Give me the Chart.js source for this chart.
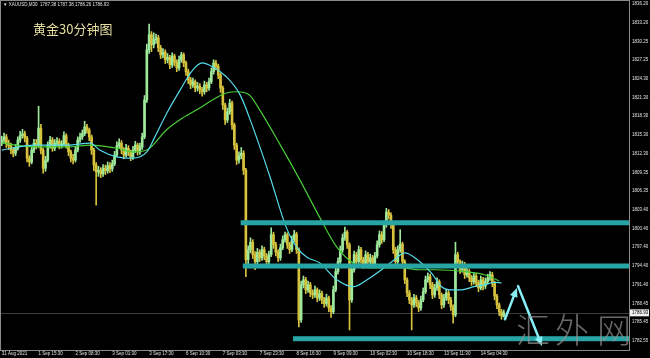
<!DOCTYPE html>
<html>
<head>
<meta charset="utf-8">
<script src="https://cdn.jsdelivr.net/npm/chart.js@4.4.0/dist/chart.umd.min.js"></script>
<style>
  html, body { margin: 0; padding: 0; background: #000; }
  #wrap { width: 650px; height: 358px; }
</style>
</head>
<body>
<div id="wrap"><canvas id="goldChart" width="650" height="358"></canvas></div>
<script>
// XAUUSD M30 - one candle per hour slot, x unit = one 30-min bar

const firstOpen = 1814.0;
const closes = [
  1814.5, 1815.0, 1813.9, 1813.6, 1812.9, 1812.4, 1813.2, 1814.5, 1815.2, 1815.5,
  1814.8, 1811.6, 1811.0, 1812.9, 1814.0, 1813.7, 1816.4, 1812.9, 1810.0, 1811.3,
  1813.7, 1814.5, 1813.2, 1814.0, 1814.3, 1813.6, 1813.9, 1815.2, 1813.7, 1812.6,
  1811.6, 1811.3, 1812.9, 1814.5, 1815.0, 1815.5, 1816.6, 1816.1, 1815.0, 1812.9,
  1810.5, 1809.4, 1809.7, 1809.1, 1810.0, 1809.6, 1810.4, 1809.9, 1810.7, 1812.1,
  1813.6, 1814.0, 1812.9, 1812.1, 1813.2, 1812.6, 1811.8, 1812.9, 1813.7, 1812.6,
  1813.4, 1815.0, 1820.9, 1828.9, 1831.3, 1829.7, 1830.5, 1830.8, 1829.2, 1828.1,
  1828.5, 1827.3, 1827.7, 1826.5, 1827.9, 1826.9, 1826.0, 1827.3, 1828.1, 1826.8,
  1825.4, 1824.1, 1823.3, 1823.8, 1822.8, 1823.1, 1822.5, 1822.2, 1823.3, 1822.8,
  1823.8, 1825.4, 1826.8, 1826.3, 1824.9, 1822.8, 1820.1, 1817.7, 1819.0, 1820.4,
  1816.9, 1813.7, 1811.3, 1812.0, 1812.4, 1809.7, 1795.4, 1797.0, 1798.2, 1796.2,
  1795.1, 1796.6, 1795.7, 1797.0, 1796.0, 1795.1, 1796.2, 1799.4, 1797.8, 1796.6,
  1795.7, 1797.3, 1798.6, 1799.4, 1797.8, 1797.0, 1798.6, 1799.5, 1797.0, 1785.8,
  1791.4, 1792.2, 1790.6, 1791.4, 1790.1, 1789.8, 1790.6, 1789.3, 1790.0, 1789.0,
  1788.4, 1789.3, 1787.7, 1787.1, 1790.6, 1793.5, 1795.1, 1797.0, 1798.9, 1799.8,
  1797.8, 1789.0, 1793.8, 1796.2, 1795.1, 1797.0, 1795.4, 1794.6, 1796.2, 1795.1,
  1795.7, 1794.7, 1796.0, 1797.8, 1799.4, 1798.6, 1801.0, 1803.0, 1802.5, 1801.0,
  1797.0, 1795.1, 1797.0, 1797.9, 1795.1, 1792.2, 1790.1, 1789.0, 1788.2, 1789.3,
  1788.5, 1787.7, 1789.0, 1790.3, 1792.2, 1792.7, 1791.4, 1789.8, 1790.9, 1791.9,
  1789.8, 1788.2, 1789.3, 1790.1, 1789.0, 1787.9, 1786.6, 1796.2, 1795.1, 1793.8,
  1794.6, 1793.0, 1793.5, 1792.5, 1791.9, 1792.8, 1791.7, 1790.9, 1792.2, 1791.2,
  1791.9, 1792.5, 1793.0, 1791.7, 1789.6, 1788.2, 1787.1, 1786.4, 1786.93
];
const highs = [
  1815.1, 1815.6, 1815.4, 1814.5, 1814.0, 1813.3, 1813.8, 1815.0, 1815.9, 1816.2,
  1815.9, 1815.1, 1812.0, 1813.4, 1814.6, 1814.6, 1819.9, 1817.0, 1813.2, 1811.9,
  1814.2, 1815.1, 1814.9, 1814.6, 1814.9, 1814.7, 1814.4, 1815.8, 1815.5, 1814.0,
  1812.9, 1812.2, 1813.4, 1815.0, 1815.6, 1816.1, 1817.5, 1817.0, 1816.4, 1815.3,
  1813.2, 1810.9, 1810.3, 1810.1, 1810.6, 1810.5, 1811.0, 1810.9, 1811.3, 1812.7,
  1814.2, 1814.7, 1814.4, 1813.3, 1813.8, 1813.6, 1812.9, 1813.5, 1814.3, 1814.0,
  1814.0, 1815.6, 1821.6, 1829.8, 1833.0, 1831.8, 1831.6, 1831.4, 1831.2, 1829.6,
  1829.1, 1828.9, 1828.3, 1828.0, 1828.4, 1828.2, 1827.3, 1827.9, 1828.5, 1828.4,
  1827.1, 1825.8, 1824.5, 1824.4, 1824.1, 1823.7, 1823.5, 1822.9, 1823.9, 1823.7,
  1824.4, 1826.0, 1827.3, 1827.2, 1826.6, 1825.2, 1823.1, 1820.4, 1819.6, 1821.0,
  1820.7, 1817.2, 1814.0, 1812.6, 1813.3, 1812.8, 1810.0, 1797.6, 1798.9, 1798.6,
  1796.7, 1797.2, 1797.0, 1797.6, 1797.4, 1796.4, 1796.8, 1800.5, 1799.8, 1798.2,
  1797.0, 1797.9, 1799.2, 1799.8, 1799.7, 1798.2, 1799.2, 1800.1, 1799.8, 1797.3,
  1792.0, 1792.8, 1792.6, 1792.0, 1791.8, 1790.6, 1791.2, 1790.9, 1790.6, 1790.4,
  1789.4, 1789.9, 1789.6, 1788.1, 1791.2, 1794.1, 1795.7, 1797.6, 1799.5, 1800.6,
  1800.1, 1798.1, 1794.4, 1796.8, 1796.6, 1797.6, 1797.4, 1795.8, 1796.8, 1796.6,
  1796.3, 1796.1, 1796.6, 1798.4, 1800.0, 1799.9, 1801.6, 1803.6, 1803.4, 1802.9,
  1801.3, 1797.4, 1797.6, 1800.2, 1798.2, 1795.4, 1792.5, 1790.5, 1789.4, 1789.9,
  1789.7, 1788.9, 1789.6, 1790.9, 1792.8, 1793.3, 1793.1, 1791.8, 1791.5, 1792.5,
  1792.2, 1790.1, 1789.9, 1790.7, 1790.5, 1789.4, 1788.2, 1798.2, 1796.6, 1795.4,
  1795.2, 1795.0, 1794.1, 1793.9, 1792.9, 1793.4, 1793.2, 1792.1, 1792.8, 1792.6,
  1792.5, 1793.1, 1793.5, 1793.4, 1792.0, 1789.9, 1788.5, 1787.5, 1787.38
];
const lows = [
  1813.6, 1814.1, 1813.3, 1813.0, 1812.3, 1811.8, 1812.0, 1812.9, 1814.1, 1814.8,
  1814.2, 1811.0, 1810.3, 1810.7, 1812.5, 1813.1, 1813.3, 1812.3, 1809.2, 1809.5,
  1811.0, 1813.2, 1812.7, 1812.8, 1813.5, 1813.1, 1813.2, 1813.6, 1813.2, 1812.0,
  1811.0, 1810.7, 1811.0, 1812.6, 1814.1, 1814.6, 1815.2, 1815.6, 1814.4, 1812.2,
  1809.6, 1804.1, 1808.7, 1808.5, 1808.7, 1809.0, 1809.2, 1809.3, 1809.5, 1810.4,
  1811.8, 1813.2, 1812.3, 1811.5, 1811.8, 1812.0, 1811.2, 1811.4, 1812.5, 1812.1,
  1812.2, 1813.0, 1814.7, 1820.5, 1828.3, 1828.6, 1829.2, 1829.9, 1828.6, 1827.5,
  1827.6, 1826.7, 1826.8, 1825.9, 1826.1, 1826.3, 1825.4, 1825.6, 1826.9, 1826.2,
  1824.8, 1823.5, 1822.7, 1822.9, 1822.2, 1822.3, 1821.9, 1821.5, 1821.8, 1822.2,
  1822.4, 1823.5, 1825.0, 1825.7, 1824.3, 1822.1, 1819.4, 1817.0, 1817.3, 1818.6,
  1816.2, 1813.0, 1810.6, 1810.8, 1811.5, 1809.0, 1792.7, 1794.6, 1796.5, 1795.6,
  1793.8, 1794.7, 1795.1, 1795.3, 1795.4, 1794.5, 1794.7, 1795.9, 1797.2, 1796.0,
  1795.1, 1795.3, 1797.0, 1798.2, 1797.2, 1796.4, 1796.7, 1798.2, 1796.4, 1784.7,
  1785.4, 1790.9, 1790.0, 1790.2, 1789.5, 1789.2, 1789.4, 1788.7, 1788.9, 1788.4,
  1787.8, 1788.0, 1787.1, 1786.2, 1786.8, 1790.3, 1793.1, 1794.8, 1796.6, 1798.5,
  1797.2, 1784.2, 1788.6, 1793.4, 1794.5, 1794.8, 1794.8, 1794.0, 1794.3, 1794.5,
  1794.7, 1794.1, 1794.4, 1795.7, 1797.4, 1798.0, 1798.3, 1800.6, 1801.9, 1800.4,
  1796.4, 1794.5, 1794.8, 1796.6, 1794.5, 1791.6, 1789.5, 1788.4, 1784.2, 1787.8,
  1787.9, 1787.1, 1787.3, 1788.7, 1790.0, 1791.8, 1790.8, 1789.2, 1789.4, 1790.5,
  1789.2, 1787.6, 1787.8, 1788.9, 1788.4, 1787.3, 1785.3, 1786.3, 1794.5, 1793.2,
  1793.4, 1792.4, 1792.6, 1791.9, 1791.3, 1791.5, 1791.1, 1790.3, 1790.6, 1790.6,
  1790.8, 1791.5, 1792.1, 1791.1, 1789.0, 1787.6, 1786.5, 1785.9, 1786.26
];

// moving averages (bar index, price)
const maFastBars = [0, 28, 57, 77, 85, 100, 114, 126, 133, 144, 155, 166, 174, 183, 195, 207, 218, 233, 247, 256, 265, 276, 291, 305, 318, 332, 341, 350, 361, 373, 382, 390, 399, 410, 419, 428, 434];
const maFastValues = [1812.9, 1813.7, 1813.7, 1814.0, 1812.9, 1811.8, 1811.6, 1812.6, 1815.0, 1819.0, 1822.5, 1825.7, 1826.8, 1826.2, 1824.6, 1821.7, 1816.6, 1808.6, 1800.6, 1797.4, 1795.8, 1794.9, 1792.2, 1791.1, 1792.3, 1794.1, 1795.4, 1796.5, 1795.4, 1793.3, 1791.1, 1790.6, 1790.6, 1791.1, 1791.4, 1791.8, 1791.7];
const maSlowBars = [0, 28, 57, 77, 100, 114, 126, 143, 157, 172, 183, 195, 204, 215, 224, 241, 259, 276, 291, 305, 319, 334, 348, 363, 376, 402, 419, 432];
const maSlowValues = [1814.0, 1813.4, 1813.4, 1813.7, 1813.2, 1812.6, 1812.9, 1816.1, 1818.0, 1819.6, 1820.9, 1822.0, 1822.2, 1821.7, 1819.3, 1814.0, 1808.1, 1802.2, 1797.4, 1794.9, 1794.1, 1794.1, 1794.1, 1793.8, 1793.8, 1793.5, 1793.0, 1792.0];

// horizontal zones and drawn arrows
const zonePrices = [1801.3, 1794.4, 1782.8];
const zoneStartBars = [207.5, 209.3, 252.9];
const arrowStarts = [[437.0, 1785.9], [448.3, 1791.2]];
const arrowEnds = [[447.4, 1790.9], [469.1, 1781.65]];

const bidPrice = 1786.93;
const xTickBars = [0, 32, 64, 96, 128, 160, 192, 224, 256, 288, 320, 352, 384, 416];
const xTickLabels = ['31 Aug 2021', '1 Sep 15:30', '2 Sep 08:30', '3 Sep 01:30', '3 Sep 17:30', '6 Sep 10:30', '7 Sep 03:30', '7 Sep 23:30', '8 Sep 16:30', '9 Sep 09:30', '10 Sep 02:30', '10 Sep 18:30', '13 Sep 11:30', '14 Sep 04:30'];
const yTickValues = [1836.20, 1833.20, 1830.25, 1827.25, 1824.30, 1821.30, 1818.30, 1815.30, 1812.30, 1809.35, 1806.35, 1803.40, 1800.40, 1797.40, 1794.40, 1791.40, 1788.45, 1785.45, 1782.55];

const colors = {
    up: '#9de89a',
    down: '#d6c23c',
    maFast: '#55dcea',
    maSlow: '#48cc36',
    zone: '#27a5a5',
    arrow: '#86eef4',
    text: '#e2e2e2',
    frame: '#8a8a8a'
};

const opens = closes.map((c, i) => i === 0 ? firstOpen : closes[i - 1]);
const candleBars = closes.map((c, i) => i * 2);
const candleColors = closes.map((c, i) => c >= opens[i] ? colors.up : colors.down);

const mtOverlay = {
    id: 'mtOverlay',
    beforeDraw(chart) {
        const ctx = chart.ctx;
        ctx.save();
        ctx.fillStyle = '#000';
        ctx.fillRect(0, 0, chart.width, chart.height);
        ctx.restore();
    },
    beforeDatasetsDraw(chart) {
        const {ctx, chartArea, scales} = chart;
        const y = Math.round(scales.y.getPixelForValue(bidPrice)) + 0.5;
        ctx.save();
        ctx.strokeStyle = '#3c3c3c';
        ctx.lineWidth = 1;
        ctx.beginPath();
        ctx.moveTo(chartArea.left, y);
        ctx.lineTo(chartArea.right, y);
        ctx.stroke();
        ctx.restore();
    },
    afterDatasetsDraw(chart) {
        const {ctx, chartArea, scales} = chart;
        const xs = scales.x, ys = scales.y;
        ctx.save();
        ctx.beginPath();
        ctx.rect(chartArea.left, chartArea.top, chartArea.right - chartArea.left, chartArea.bottom - chartArea.top);
        ctx.clip();

        // zones
        ctx.fillStyle = colors.zone;
        zonePrices.forEach((p, i) => {
            const x0 = xs.getPixelForValue(zoneStartBars[i]);
            const y = ys.getPixelForValue(p);
            ctx.fillRect(x0, y - 2.5, chartArea.right - x0, 5);
        });

        // arrows
        ctx.strokeStyle = colors.arrow;
        ctx.fillStyle = colors.arrow;
        ctx.lineWidth = 2.5;
        ctx.lineCap = 'round';
        arrowStarts.forEach((s, i) => {
            const x1 = xs.getPixelForValue(s[0]), y1 = ys.getPixelForValue(s[1]);
            const x2 = xs.getPixelForValue(arrowEnds[i][0]), y2 = ys.getPixelForValue(arrowEnds[i][1]);
            const a = Math.atan2(y2 - y1, x2 - x1);
            const bx = x2 - 9 * Math.cos(a), by = y2 - 9 * Math.sin(a);
            ctx.beginPath();
            ctx.moveTo(x1, y1);
            ctx.lineTo(bx, by);
            ctx.stroke();
            ctx.beginPath();
            ctx.moveTo(x2, y2);
            ctx.lineTo(bx + 4 * Math.sin(a), by - 4 * Math.cos(a));
            ctx.lineTo(bx - 4 * Math.sin(a), by + 4 * Math.cos(a));
            ctx.closePath();
            ctx.fill();
        });

        // watermark
        ctx.fillStyle = 'rgba(150,150,150,0.7)';
        ctx.font = '300 34px "Noto Sans CJK SC"';
        ctx.textAlign = 'center';
        ctx.textBaseline = 'alphabetic';
        ctx.fillText('汇', 533, 343);
        ctx.fillText('外', 572, 343);
        ctx.fillText('网', 614, 343);
        ctx.restore();
    },
    afterDraw(chart) {
        const {ctx, chartArea, scales} = chart;
        ctx.save();
        // frame
        ctx.strokeStyle = colors.frame;
        ctx.lineWidth = 1;
        ctx.strokeRect(chartArea.left + 0.5, chartArea.top + 0.5, chartArea.right - chartArea.left, chartArea.bottom - chartArea.top);

        // header line
        ctx.fillStyle = colors.text;
        ctx.font = '4.5px "Liberation Sans"';
        ctx.textBaseline = 'middle';
        ctx.textAlign = 'left';
        ctx.fillText('▼ XAUUSD,M30  1787.38 1787.38 1786.26 1786.93', 3, 4.5);

        // title
        ctx.fillStyle = '#e6dea0';
        ctx.font = '13px "Noto Sans CJK SC"';
        ctx.fillText('黄金30分钟图', 33, 29);

        // bid price box
        const y = scales.y.getPixelForValue(bidPrice);
        ctx.fillStyle = '#f0f0f0';
        ctx.fillRect(chartArea.right + 1, y - 3.5, 19, 7);
        ctx.fillStyle = '#000';
        ctx.font = '4.5px "Liberation Sans"';
        ctx.fillText(bidPrice.toFixed(2), chartArea.right + 3, y);
        ctx.restore();
    }
};

const ctx = document.getElementById('goldChart').getContext('2d');
new Chart(ctx, {
    type: 'bar',
    data: {
        datasets: [
            {
                type: 'line',
                label: 'MA fast',
                data: maFastBars.map((b, i) => ({x: b, y: maFastValues[i]})),
                borderColor: colors.maFast,
                borderWidth: 1.2,
                pointRadius: 0,
                cubicInterpolationMode: 'monotone',
                order: 0
            },
            {
                type: 'line',
                label: 'MA slow',
                data: maSlowBars.map((b, i) => ({x: b, y: maSlowValues[i]})),
                borderColor: colors.maSlow,
                borderWidth: 1.2,
                pointRadius: 0,
                cubicInterpolationMode: 'monotone',
                order: 0
            },
            {
                label: 'wick',
                data: candleBars.map((b, i) => ({x: b, y: [lows[i], highs[i]]})),
                backgroundColor: candleColors,
                barThickness: 1,
                grouped: false,
                order: 2
            },
            {
                label: 'body',
                data: candleBars.map((b, i) => ({x: b, y: [opens[i], closes[i]]})),
                backgroundColor: candleColors,
                barThickness: 2,
                minBarLength: 1,
                grouped: false,
                order: 1
            }
        ]
    },
    options: {
        responsive: false,
        animation: false,
        layout: { padding: 0 },
        plugins: {
            legend: { display: false },
            tooltip: { enabled: false }
        },
        scales: {
            x: {
                type: 'linear',
                min: -1.5,
                max: 544.7,
                offset: false,
                grid: { display: false, drawTicks: false },
                border: { display: false },
                ticks: {
                    color: colors.text,
                    font: { size: 4.5, family: 'Liberation Sans' },
                    align: 'start',
                    padding: 1,
                    maxRotation: 0,
                    autoSkip: false,
                    callback: function(value) {
                        const i = xTickBars.indexOf(value);
                        return i >= 0 ? xTickLabels[i] : '';
                    }
                },
                afterBuildTicks: function(scale) {
                    scale.ticks = xTickBars.map(v => ({value: v}));
                },
                afterFit: function(scale) {
                    scale.height = 8;
                    scale.paddingLeft = 0;
                    scale.paddingRight = 0;
                }
            },
            y: {
                position: 'right',
                min: 1781.0,
                max: 1836.84,
                beginAtZero: false,
                grid: { display: false, drawTicks: false },
                border: { display: false },
                ticks: {
                    color: colors.text,
                    font: { size: 4.5, family: 'Liberation Sans' },
                    padding: 3,
                    autoSkip: false,
                    callback: function(value) {
                        return Number(value).toFixed(2);
                    }
                },
                afterBuildTicks: function(scale) {
                    scale.ticks = yTickValues.map(v => ({value: v}));
                },
                afterFit: function(scale) {
                    scale.width = 21;
                    scale.paddingTop = 0;
                    scale.paddingBottom = 0;
                }
            }
        }
    },
    plugins: [mtOverlay]
});
</script>
</body>
</html>
